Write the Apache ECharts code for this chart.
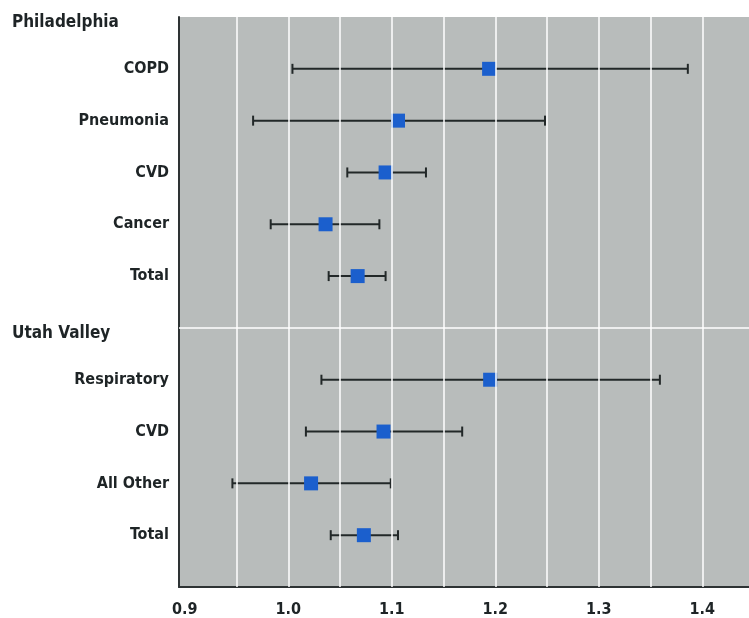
<!DOCTYPE html>
<html>
<head>
<meta charset="utf-8">
<script src="https://cdn.jsdelivr.net/npm/echarts@6/dist/echarts.min.js"></script>
<style>
html,body{margin:0;padding:0;background:#fff;}
#chart{width:749px;height:618px;}
</style>
</head>
<body>
<div id="chart"></div>
<script>
// Rows top to bottom (group headers included, last row is the empty bottom slot)
const rowLabels = ['Philadelphia','COPD','Pneumonia','CVD','Cancer','Total','Utah Valley','Respiratory','CVD','All Other','Total',''];
const headerRows = ['Philadelphia','Utah Valley'];
const estimates = [null, 1.194, 1.106, 1.094, 1.036, 1.067, null, 1.195, 1.092, 1.022, 1.073, null];
const lowerCI   = [null, 1.004, 0.966, 1.057, 0.983, 1.039, null, 1.032, 1.017, 0.946, 1.041, null];
const upperCI   = [null, 1.386, 1.248, 1.133, 1.088, 1.094, null, 1.359, 1.168, 1.099, 1.106, null];
const xTickLabels = [0.9, 1.0, 1.1, 1.2, 1.3, 1.4];
const xGridValues = [0.95, 1.0, 1.05, 1.1, 1.15, 1.2, 1.25, 1.3, 1.35, 1.4];
const groupSeparators = [6];

const FONT = "'Liberation Sans Narrow', 'DejaVu Sans Condensed', 'Roboto', sans-serif";

const points = [];
const bars = [];
rowLabels.forEach((name, i) => {
  if (estimates[i] != null) {
    points.push([estimates[i], i]);
    bars.push([lowerCI[i], upperCI[i], i]);
  }
});

const chart = echarts.init(document.getElementById('chart'), null, {renderer: 'canvas'});
chart.setOption({
  animation: false,
  backgroundColor: '#ffffff',
  grid: {
    left: 179, right: 0, top: 17, bottom: 31,
    show: true, backgroundColor: '#b8bcbb', borderWidth: 0
  },
  xAxis: {
    type: 'value',
    min: 0.8944, max: 1.4451,
    axisLine: {show: true, onZero: false, lineStyle: {color: '#2e3334', width: 2}},
    axisTick: {show: false},
    splitLine: {show: false},
    axisLabel: {
      customValues: xTickLabels,
      formatter: v => v.toFixed(1),
      margin: 15,
      fontFamily: FONT, fontWeight: 'bold', fontSize: 16, color: '#1e2426'
    }
  },
  yAxis: {
    type: 'value',
    min: 0, max: rowLabels.length - 1, interval: 1,
    inverse: true,
    axisLine: {show: true, onZero: false, lineStyle: {color: '#2e3334', width: 2}},
    axisTick: {show: false},
    splitLine: {show: false},
    axisLabel: {
      margin: 10,
      showMinLabel: true, showMaxLabel: true,
      formatter: v => {
        const name = rowLabels[Math.round(v)] || '';
        if (!name) return '';
        return headerRows.includes(name) ? '{h|' + name + '}' : '{c|' + name + '}';
      },
      rich: {
        h: {fontFamily: FONT, fontWeight: 'bold', fontSize: 17, color: '#1e2426', width: 157, align: 'left', padding: [12, 0, 0, 0]},
        c: {fontFamily: FONT, fontWeight: 'bold', fontSize: 16, color: '#1e2426', align: 'right'}
      }
    }
  },
  series: [
    {
      type: 'scatter',
      data: [],
      silent: true,
      z: 1,
      markLine: {
        silent: true,
        symbol: ['none', 'none'],
        label: {show: false},
        lineStyle: {color: '#ffffff', width: 1.5, type: 'solid'},
        data: xGridValues.map(v => ({xAxis: v})).concat(groupSeparators.map(v => ({yAxis: v})))
      }
    },
    {
      type: 'custom',
      z: 3,
      silent: true,
      data: bars,
      renderItem: (params, api) => {
        const y = api.value(2);
        const p1 = api.coord([api.value(0), y]);
        const p2 = api.coord([api.value(1), y]);
        const cap = 5;
        const style = {stroke: '#222828', lineWidth: 2};
        return {
          type: 'group',
          children: [
            {type: 'line', shape: {x1: p1[0], y1: p1[1], x2: p2[0], y2: p2[1]}, style},
            {type: 'line', shape: {x1: p1[0], y1: p1[1] - cap, x2: p1[0], y2: p1[1] + cap}, style},
            {type: 'line', shape: {x1: p2[0], y1: p2[1] - cap, x2: p2[0], y2: p2[1] + cap}, style}
          ]
        };
      }
    },
    {
      type: 'scatter',
      z: 4,
      silent: true,
      symbol: 'rect',
      symbolSize: 14,
      itemStyle: {color: '#1b5fcd', opacity: 1},
      data: points
    }
  ]
});
</script>
</body>
</html>
